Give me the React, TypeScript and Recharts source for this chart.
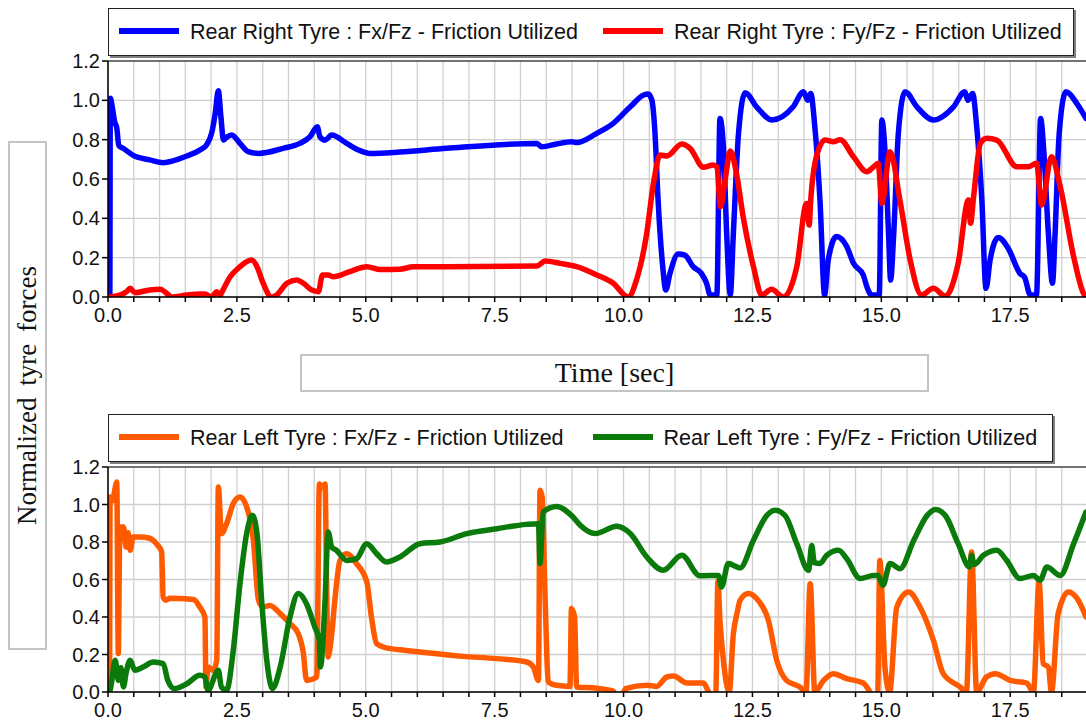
import React from 'react';
import { LineChart, Line, XAxis, YAxis, CartesianGrid, Legend, ReferenceLine } from 'recharts';

// ---------- Data ----------
// Rear Right Tyre : Fx/Fz
const RR_FX_T = [0, 0.035, 0.045, 0.08, 0.13, 0.17, 0.21, 0.30, 0.49, 0.81, 1.07, 1.27, 1.53, 1.78, 1.91, 2.01, 2.08, 2.14, 2.19, 2.24, 2.30, 2.40, 2.56, 2.72, 2.92, 3.40, 3.72, 3.92, 4.06, 4.11, 4.21, 4.34, 4.63, 4.89, 5.08, 5.66, 6.57, 8.32, 8.41, 8.70, 8.99, 9.09, 9.48, 9.80, 10.13, 10.39, 10.48, 10.55, 10.61, 10.67, 10.76, 10.82, 10.90, 11.06, 11.19, 11.35, 11.51, 11.61, 11.68, 11.81, 11.87, 11.94, 12.00, 12.07, 12.13, 12.23, 12.36, 12.58, 12.88, 13.29, 13.49, 13.57, 13.63, 13.71, 13.81, 13.90, 13.97, 14.13, 14.33, 14.46, 14.65, 14.72, 14.81, 14.96, 15.01, 15.07, 15.14, 15.18, 15.24, 15.33, 15.46, 15.69, 16.01, 16.40, 16.62, 16.68, 16.77, 16.85, 16.95, 17.03, 17.11, 17.27, 17.46, 17.69, 17.78, 17.89, 18.01, 18.09, 18.15, 18.24, 18.32, 18.37, 18.45, 18.58, 18.79, 18.97];
const RR_FX_V = [0, 0, 1.01, 0.97, 0.89, 0.86, 0.77, 0.755, 0.72, 0.697, 0.683, 0.693, 0.717, 0.747, 0.773, 0.833, 0.934, 1.049, 0.917, 0.798, 0.812, 0.824, 0.781, 0.739, 0.73, 0.756, 0.781, 0.815, 0.866, 0.815, 0.798, 0.824, 0.781, 0.744, 0.73, 0.737, 0.756, 0.781, 0.764, 0.778, 0.79, 0.785, 0.832, 0.883, 0.967, 1.027, 1.032, 1.0, 0.832, 0.493, 0.154, 0.036, 0.12, 0.219, 0.213, 0.154, 0.12, 0.07, 0.01, 0.01, 0.908, 0.747, 0.325, 0.01, 0.324, 0.832, 1.039, 0.967, 0.9, 0.967, 1.044, 1.0, 1.035, 0.866, 0.493, 0.01, 0.188, 0.307, 0.256, 0.171, 0.112, 0.052, 0.01, 0.01, 0.9, 0.747, 0.324, 0.086, 0.32, 0.832, 1.044, 0.967, 0.9, 0.967, 1.044, 1.0, 1.035, 0.866, 0.493, 0.044, 0.188, 0.303, 0.248, 0.12, 0.1, 0.01, 0.01, 0.908, 0.747, 0.324, 0.07, 0.32, 0.832, 1.044, 0.985, 0.908];

// Rear Right Tyre : Fy/Fz
const RR_FY_T = [0, 0.23, 0.36, 0.43, 0.52, 0.81, 1.01, 1.11, 1.24, 1.53, 1.78, 1.88, 2.01, 2.11, 2.17, 2.20, 2.37, 2.56, 2.69, 2.79, 2.89, 3.01, 3.17, 3.27, 3.47, 3.66, 3.79, 3.95, 4.08, 4.16, 4.27, 4.37, 4.69, 5.02, 5.28, 5.66, 5.92, 6.57, 8.32, 8.48, 8.77, 9.09, 9.48, 9.80, 10.09, 10.25, 10.45, 10.58, 10.71, 10.84, 11.13, 11.29, 11.55, 11.74, 11.81, 11.88, 11.97, 12.07, 12.19, 12.32, 12.52, 12.68, 12.87, 13.10, 13.36, 13.55, 13.60, 13.63, 13.74, 13.91, 14.07, 14.20, 14.46, 14.72, 14.85, 14.94, 15.01, 15.17, 15.36, 15.56, 15.78, 16.01, 16.24, 16.49, 16.69, 16.73, 16.79, 16.92, 17.05, 17.24, 17.63, 17.85, 18.01, 18.11, 18.30, 18.47, 18.73, 18.92, 18.97];
const RR_FY_V = [0, 0.01, 0.027, 0.044, 0.022, 0.036, 0.039, 0.025, 0.0, 0.01, 0.015, 0.015, 0.0, 0.027, 0.005, 0.02, 0.103, 0.154, 0.18, 0.188, 0.154, 0.07, 0.0, 0.01, 0.07, 0.086, 0.07, 0.036, 0.027, 0.112, 0.112, 0.103, 0.129, 0.154, 0.14, 0.141, 0.154, 0.154, 0.158, 0.183, 0.171, 0.154, 0.112, 0.07, 0.0, 0.086, 0.324, 0.578, 0.722, 0.717, 0.778, 0.756, 0.66, 0.671, 0.66, 0.459, 0.595, 0.742, 0.629, 0.408, 0.154, 0.01, 0.039, 0.0, 0.154, 0.476, 0.366, 0.49, 0.713, 0.798, 0.79, 0.8, 0.713, 0.637, 0.662, 0.68, 0.476, 0.739, 0.493, 0.188, 0.01, 0.044, 0.005, 0.171, 0.493, 0.375, 0.51, 0.781, 0.807, 0.798, 0.662, 0.662, 0.68, 0.468, 0.713, 0.561, 0.205, 0.019, 0.0];

// Rear Left Tyre : Fx/Fz
const RL_FX_T = [0, 0.03, 0.04, 0.09, 0.14, 0.17, 0.20, 0.23, 0.30, 0.35, 0.39, 0.43, 0.49, 0.62, 0.81, 0.94, 1.04, 1.07, 1.12, 1.20, 1.66, 1.78, 1.88, 1.90, 1.94, 2.04, 2.11, 2.14, 2.20, 2.30, 2.43, 2.56, 2.69, 2.82, 2.92, 3.01, 3.14, 3.34, 3.53, 3.69, 3.79, 3.85, 4.05, 4.10, 4.14, 4.21, 4.24, 4.27, 4.34, 4.40, 4.50, 4.63, 4.82, 5.02, 5.11, 5.21, 5.40, 5.66, 6.05, 6.89, 7.54, 8.12, 8.25, 8.35, 8.38, 8.42, 8.48, 8.54, 8.70, 8.96, 8.99, 9.05, 9.09, 9.48, 9.80, 9.88, 9.97, 10.04, 10.45, 10.64, 10.84, 10.97, 11.23, 11.55, 11.65, 11.72, 11.79, 11.83, 11.87, 11.94, 12.05, 12.13, 12.20, 12.26, 12.42, 12.61, 12.81, 12.97, 13.16, 13.42, 13.54, 13.62, 13.71, 13.88, 14.07, 14.33, 14.65, 14.78, 14.85, 14.93, 14.97, 15.07, 15.16, 15.30, 15.53, 15.75, 16.01, 16.20, 16.53, 16.65, 16.75, 16.85, 17.04, 17.21, 17.50, 17.82, 17.95, 18.06, 18.14, 18.24, 18.30, 18.43, 18.63, 18.82, 18.97];
const RL_FX_V = [0, 0, 1.04, 1.02, 1.09, 1.12, 0.205, 0.88, 0.88, 0.773, 0.85, 0.756, 0.827, 0.827, 0.82, 0.79, 0.747, 0.507, 0.49, 0.5, 0.493, 0.453, 0.4, 0.027, 0.133, 0.116, 0.169, 1.093, 0.845, 0.898, 1.005, 1.04, 0.987, 0.809, 0.489, 0.453, 0.462, 0.418, 0.365, 0.311, 0.205, 0.062, 0.08, 1.11, 1.09, 1.11, 0.578, 0.187, 0.311, 0.489, 0.702, 0.738, 0.685, 0.587, 0.4, 0.258, 0.235, 0.225, 0.213, 0.19, 0.178, 0.16, 0.133, 0.062, 1.076, 1.04, 0.489, 0.053, 0.036, 0.03, 0.445, 0.4, 0.027, 0.02, 0.005, -0.03, -0.02, 0.018, 0.036, 0.03, 0.08, 0.085, 0.048, 0.048, 0.0, -0.03, 0.0, 0.59, 0.38, 0.16, 0.0, 0.311, 0.418, 0.489, 0.525, 0.489, 0.382, 0.17, 0.062, 0.027, 0.0, 0.578, 0.0, 0.062, 0.098, 0.071, 0.048, 0.0, -0.03, 0.0, 0.702, 0.133, 0.0, 0.453, 0.533, 0.453, 0.276, 0.098, 0.027, 0.0, 0.747, 0.0, 0.08, 0.098, 0.062, 0.048, 0.0, 0.587, 0.151, 0.133, 0.0, 0.418, 0.533, 0.489, 0.4];

// Rear Left Tyre : Fy/Fz
const RL_FY_T = [0, 0.04, 0.14, 0.20, 0.25, 0.30, 0.35, 0.43, 0.52, 0.68, 0.88, 1.07, 1.16, 1.29, 1.53, 1.78, 1.88, 1.94, 2.14, 2.20, 2.30, 2.43, 2.56, 2.69, 2.80, 2.89, 2.98, 3.08, 3.19, 3.34, 3.53, 3.69, 3.85, 4.01, 4.10, 4.12, 4.21, 4.27, 4.34, 4.43, 4.63, 4.82, 5.02, 5.21, 5.40, 5.66, 6.05, 6.44, 6.96, 7.54, 8.12, 8.35, 8.38, 8.44, 8.70, 9.02, 9.16, 9.45, 9.87, 10.13, 10.45, 10.77, 11.13, 11.48, 11.84, 11.90, 12.03, 12.26, 12.52, 12.78, 12.94, 13.13, 13.36, 13.59, 13.65, 13.70, 13.81, 13.94, 14.17, 14.33, 14.59, 14.85, 14.94, 15.03, 15.17, 15.36, 15.63, 15.89, 16.05, 16.24, 16.49, 16.71, 16.75, 16.80, 16.98, 17.24, 17.43, 17.69, 17.95, 18.08, 18.21, 18.47, 18.73, 18.97];
const RL_FY_V = [0, 0.01, 0.169, 0.062, 0.13, 0.027, 0.1, 0.169, 0.116, 0.133, 0.16, 0.151, 0.062, 0.018, 0.044, 0.089, 0.08, 0.01, 0.116, 0.027, 0.01, 0.222, 0.578, 0.845, 0.942, 0.845, 0.489, 0.169, 0.018, 0.133, 0.4, 0.525, 0.471, 0.347, 0.276, 0.133, 0.489, 0.853, 0.773, 0.756, 0.702, 0.711, 0.791, 0.738, 0.693, 0.72, 0.791, 0.8, 0.845, 0.871, 0.894, 0.898, 0.685, 0.96, 0.99, 0.933, 0.889, 0.845, 0.884, 0.845, 0.72, 0.649, 0.729, 0.62, 0.622, 0.56, 0.685, 0.662, 0.809, 0.942, 0.969, 0.942, 0.791, 0.649, 0.782, 0.69, 0.685, 0.729, 0.756, 0.711, 0.605, 0.622, 0.622, 0.569, 0.685, 0.658, 0.809, 0.942, 0.973, 0.942, 0.791, 0.667, 0.729, 0.68, 0.729, 0.756, 0.702, 0.605, 0.622, 0.596, 0.667, 0.622, 0.791, 0.96];

// Axes
const X_TICKS = [0, 0.5, 1, 1.5, 2, 2.5, 3, 3.5, 4, 4.5, 5, 5.5, 6, 6.5, 7, 7.5, 8, 8.5, 9, 9.5, 10, 10.5, 11, 11.5, 12, 12.5, 13, 13.5, 14, 14.5, 15, 15.5, 16, 16.5, 17, 17.5, 18, 18.5];
const X_LABELED = [0, 2.5, 5, 7.5, 10, 12.5, 15, 17.5];
const Y_TICKS = [0, 0.2, 0.4, 0.6, 0.8, 1.0, 1.2];
const X_DOMAIN: [number, number] = [0, 18.97];
const Y_DOMAIN: [number, number] = [0, 1.2];

const TOP_SERIES = [
  { name: 'Rear Right Tyre : Fx/Fz - Friction Utilized', color: '#0000FF', t: RR_FX_T, v: RR_FX_V },
  { name: 'Rear Right Tyre : Fy/Fz - Friction Utilized', color: '#FF0000', t: RR_FY_T, v: RR_FY_V },
];
const BOTTOM_SERIES = [
  { name: 'Rear Left Tyre : Fx/Fz - Friction Utilized', color: '#FF5A00', t: RL_FX_T, v: RL_FX_V },
  { name: 'Rear Left Tyre : Fy/Fz - Friction Utilized', color: '#0A7A0A', t: RL_FY_T, v: RL_FY_V },
];

const toPoints = (t: number[], v: number[]) => t.map((x, i) => ({ t: x, v: v[i] }));

const SANS = '"Liberation Sans", Arial, sans-serif';
const SERIF = '"Liberation Serif", "Times New Roman", serif';

type Item = { name: string; color: string };

const LegendBox = ({ items, gap, padRight }: { items: Item[]; gap: number; padRight: number }) => (
  <div
    style={{
      display: 'flex',
      alignItems: 'center',
      height: 48,
      boxSizing: 'border-box',
      border: '1px solid #222',
      boxShadow: '2px 2px 0 #808080',
      background: '#fff',
      paddingLeft: 10,
      paddingRight: padRight,
      fontFamily: SANS,
      fontSize: 21.5,
      color: '#111',
      whiteSpace: 'nowrap',
    }}
  >
    {items.map((it, i) => (
      <div key={i} style={{ display: 'flex', alignItems: 'center', marginLeft: i ? gap : 0 }}>
        <span style={{ display: 'inline-block', width: 60, height: 6, background: it.color, marginRight: 11, marginTop: -3 }} />
        <span>{it.name}</span>
      </div>
    ))}
  </div>
);

const xFmt = (v: number) => (X_LABELED.includes(v) ? v.toFixed(1) : '');
const yFmt = (v: number) => v.toFixed(1);

const Panel = ({ series, height, top, plotH, legendTop, gap, padRight }: any) => (
  <LineChart
    width={1086}
    height={height}
    margin={{ top: top, right: 0, left: 48, bottom: height - top - plotH - 40 }}
  >
    <CartesianGrid stroke="#cfcfcf" strokeWidth={1.3} horizontalValues={Y_TICKS} verticalValues={X_TICKS} />
    <XAxis
      type="number"
      dataKey="t"
      domain={X_DOMAIN}
      ticks={X_TICKS}
      interval={0}
      allowDataOverflow
      tickFormatter={xFmt}
      tickSize={5}
      tickMargin={6}
      height={40}
      stroke="#000"
      strokeWidth={1.5}
      tick={{ fill: '#111', fontSize: 20, fontFamily: SANS }}
    />
    <YAxis
      type="number"
      domain={Y_DOMAIN}
      ticks={Y_TICKS}
      interval={0}
      allowDataOverflow
      tickFormatter={yFmt}
      width={60}
      tickSize={6}
      tickMargin={2}
      stroke="#000"
      strokeWidth={1.5}
      tick={{ fill: '#111', fontSize: 20, fontFamily: SANS }}
    />
    <ReferenceLine y={1.2} stroke="#505050" strokeWidth={1.5} />
    <Legend
      verticalAlign="middle"
      align="center"
      layout="horizontal"
      wrapperStyle={{ top: legendTop, left: 108, width: 'auto', height: 'auto', right: 'auto', bottom: 'auto' }}
      content={() => <LegendBox items={series} gap={gap} padRight={padRight} />}
    />
    {series.map((s: any) => (
      <Line
        key={s.name}
        name={s.name}
        data={toPoints(s.t, s.v)}
        dataKey="v"
        type="monotone"
        stroke={s.color}
        strokeWidth={5.5}
        strokeLinejoin="round"
        strokeLinecap="round"
        dot={false}
        activeDot={false}
        isAnimationActive={false}
      />
    ))}
  </LineChart>
);

export default function App() {
  return (
    <div style={{ position: 'absolute', left: 0, top: 0, width: 1086, height: 724, background: '#fff', overflow: 'hidden' }}>
      <div style={{ position: 'absolute', left: 0, top: 0 }}>
        <Panel series={TOP_SERIES} height={340} top={61} plotH={236} legendTop={8} gap={25} padRight={11} />
      </div>
      <div style={{ position: 'absolute', left: 0, top: 405 }}>
        <Panel series={BOTTOM_SERIES} height={319} top={62} plotH={225} legendTop={9} gap={29} padRight={15} />
      </div>
      <div
        style={{
          position: 'absolute', left: 300, top: 354, width: 629, height: 38, boxSizing: 'border-box',
          border: '2px solid #c4c4c4', display: 'flex', alignItems: 'center', justifyContent: 'center',
          fontFamily: SERIF, fontSize: 28, color: '#111',
        }}
      >
        Time [sec]
      </div>
      <div
        style={{
          position: 'absolute', left: 8, top: 141, width: 39, height: 509, boxSizing: 'border-box',
          border: '2px solid #c4c4c4', display: 'flex', alignItems: 'center', justifyContent: 'center',
        }}
      >
        <div style={{ transform: 'rotate(-90deg)', whiteSpace: 'nowrap', fontFamily: SERIF, fontSize: 27, color: '#111', wordSpacing: 5 }}>
          Normalized tyre forces
        </div>
      </div>
    </div>
  );
}
